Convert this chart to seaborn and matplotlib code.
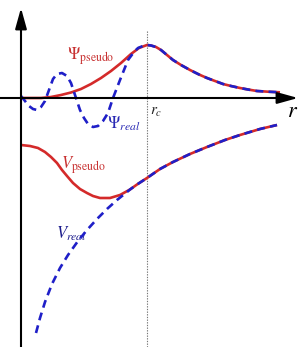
import matplotlib
matplotlib.use("Agg")
import matplotlib.pyplot as plt
import seaborn as sns
import pandas as pd

# ---- data (r, value) ----
psi_pseudo_r = [0, 10, 20, 30, 40, 50, 60, 70, 80, 90, 100, 110, 118, 126]
psi_pseudo_v = [0, 0, 0, 1, 3, 5.5, 9, 14, 20, 27, 35, 44, 50, 53]

psi_real_r = [0, 4, 8, 12, 16, 20, 24, 28, 32, 36, 41, 46, 50, 54, 59, 63, 67, 72, 77,
              82, 87, 92, 99, 107, 113, 117, 122, 126]
psi_real_v = [2, -3, -8, -11, -12, -9, -3, 8, 19, 24, 25, 22, 15, 3, -12, -20, -26, -29, -28,
              -23, -15, 0, 18, 38, 46, 50, 52, 53]

psi_tail_r = [126, 130, 135, 140, 146, 152, 160, 169, 178, 186, 194, 202, 210, 219, 227,
              236, 247, 259]
psi_tail_v = [53, 52.5, 51, 48, 43, 38, 33, 28, 23.5, 20, 17, 14, 12, 10, 8.5, 7, 6.3, 5.7]

v_pseudo_r = [0, 9, 17, 24, 30, 36, 41, 46, 52, 59, 66, 72, 79, 89, 99]
v_pseudo_v = [-47, -48, -50, -54, -59, -65, -72, -78, -85, -91, -95, -98, -100, -100, -97]

v_real_r = [15, 19, 24, 31, 39, 47, 57, 66, 76, 86, 96, 106]
v_real_v = [-235, -220, -204, -186, -170, -157, -143, -132, -121, -111, -102, -94]

v_tail_r = [109, 116, 126, 139, 152, 169, 186, 204, 219, 239, 256]
v_tail_v = [-91.5, -86.5, -80, -71, -64, -56, -49, -42, -37, -31, -27]

rc = 126

RED = "#d42a2a"
BLUE = "#1f1fc8"

sns.set_style("white")
plt.rcParams["mathtext.fontset"] = "stix"
plt.rcParams["font.family"] = ["Liberation Serif", "DejaVu Serif"]

fig = plt.figure(figsize=(3.02, 3.47), dpi=100)
ax = fig.add_axes([0, 0, 1, 1])
ax.set_xlim(-21, 281)
ax.set_ylim(-249, 98)
ax.axis("off")


def curve(r1, v1, r2, v2):
    if r1[-1] == r2[0]:
        r2, v2 = r2[1:], v2[1:]
    return pd.DataFrame({"r": list(r1) + list(r2), "v": list(v1) + list(v2)})


psi_p = curve(psi_pseudo_r, psi_pseudo_v, psi_tail_r, psi_tail_v)
psi_r = curve(psi_real_r, psi_real_v, psi_tail_r, psi_tail_v)
v_p = curve(v_pseudo_r, v_pseudo_v, v_tail_r, v_tail_v)
v_r = curve(v_real_r, v_real_v, v_tail_r, v_tail_v)

lw = 1.9
for df in (psi_p, v_p):
    sns.lineplot(data=df, x="r", y="v", ax=ax, sort=False, estimator=None,
                 color=RED, linewidth=lw, solid_capstyle="butt",
                 solid_joinstyle="round", zorder=3)
for df in (psi_r, v_r):
    sns.lineplot(data=df, x="r", y="v", ax=ax, sort=False, estimator=None,
                 color=BLUE, linewidth=lw, linestyle=(0, (3.0, 2.0)),
                 dash_capstyle="butt", dash_joinstyle="round", zorder=4)

# axes with arrows
ax.annotate("", xy=(0, 90), xytext=(0, -249),
            arrowprops=dict(arrowstyle="-|>,head_length=0.9,head_width=0.25", lw=1.5,
                            color="black", mutation_scale=14, shrinkA=0, shrinkB=0), zorder=5)
ax.annotate("", xy=(277, 0), xytext=(-21, 0),
            arrowprops=dict(arrowstyle="-|>,head_length=0.9,head_width=0.25", lw=1.5,
                            color="black", mutation_scale=14, shrinkA=0, shrinkB=0), zorder=5)
ax.plot([rc, rc], [-249, 68], color="#777777", lw=0.8, linestyle=(0, (1.2, 1.2)), zorder=1)

# labels
ax.text(46, 38, r"$\Psi_{\mathrm{pseudo}}$", color="#c83232", fontsize=12, ha="left", va="baseline")
ax.text(86, -31, r"$\Psi_{real}$", color="#2a2ab4", fontsize=12, ha="left", va="baseline")
ax.text(40, -71, r"$V_{\mathrm{pseudo}}$", color="#c83232", fontsize=12, ha="left", va="baseline")
ax.text(35, -141, r"$V_{real}$", color="#1c1c8c", fontsize=12, ha="left", va="baseline")
ax.text(129, -17, r"$r_c$", color="#222222", fontsize=11, ha="left", va="baseline")
ax.text(266, -19, r"$r$", color="black", fontsize=16, ha="left", va="baseline")

fig.savefig("out.png", dpi=100)
